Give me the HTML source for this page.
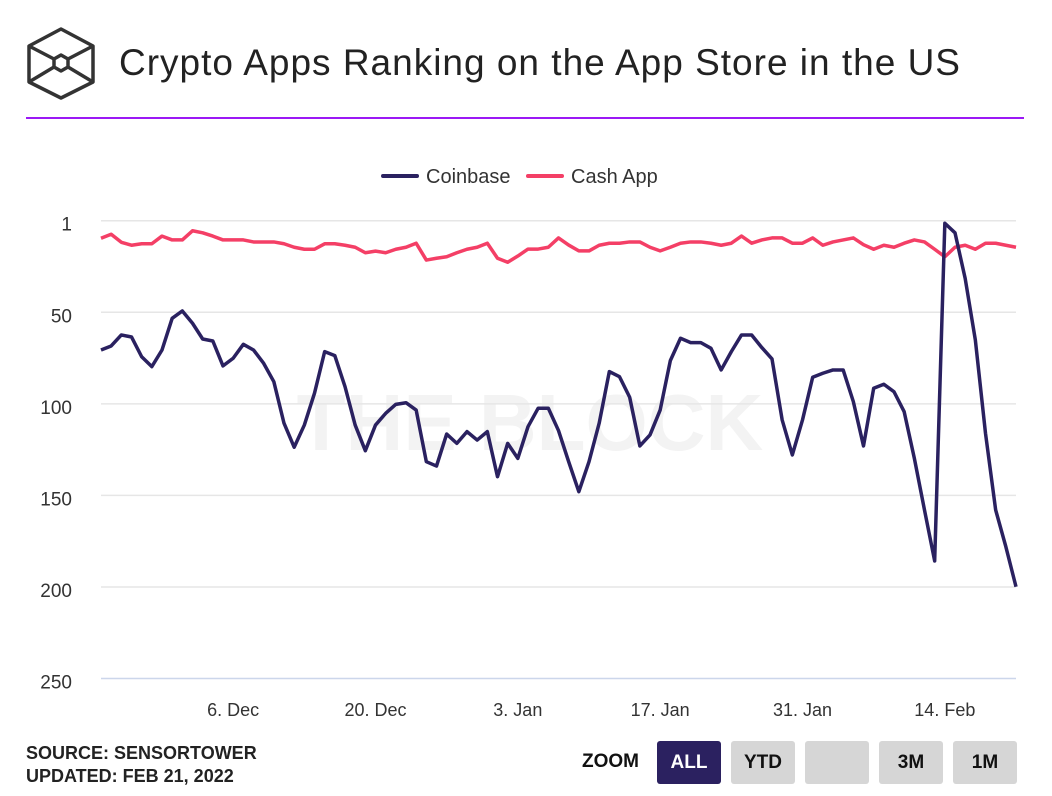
<!DOCTYPE html>
<html><head><meta charset="utf-8"><style>
body{margin:0;width:1052px;height:796px;background:#fff;font-family:"Liberation Sans",sans-serif;overflow:hidden;position:relative}
.t{position:absolute}
.btn{position:absolute;top:741px;width:64px;height:43px;border-radius:3px;background:#d6d6d6;font-weight:bold;font-size:19px;line-height:43px;text-align:center;color:#111}
</style></head><body>
<svg class="t" style="left:0;top:0" width="110" height="110">
<g fill="none" stroke="#333" stroke-width="3.5" stroke-linejoin="round">
<polygon points="61,29 93,46 93,82 61,98 29,82 29,46"/>
<polyline points="29,46 54,59"/><polyline points="93,46 68,59"/>
<polyline points="29,82 54,67"/><polyline points="93,82 68,67"/>
<polygon points="61,55 68,59 68,67 61,71 54,67 54,59"/>
</g></svg>
<div class="t" style="left:119px;top:42px;font-size:37px;letter-spacing:1px;color:#222">Crypto Apps Ranking on the App Store in the US</div>
<div class="t" style="left:26px;top:117px;width:998px;height:2px;background:#9b19f5"></div>
<svg class="t" id="chart" style="left:0;top:0" width="1052" height="730"></svg>
<div class="t" style="left:26px;top:742px;font-size:18px;font-weight:bold;line-height:23px;color:#222">SOURCE: SENSORTOWER<br>UPDATED: FEB 21, 2022</div>
<div class="t" style="left:582px;top:751px;font-size:19px;font-weight:bold;color:#111">ZOOM</div>
<div class="btn" style="left:657px;background:#2b2160;color:#fff">ALL</div>
<div class="btn" style="left:731px">YTD</div>
<div class="btn" style="left:805px"></div>
<div class="btn" style="left:879px">3M</div>
<div class="btn" style="left:953px">1M</div>
<script>
const coinbase=[70.6,68.4,62.4,63.5,74.3,79.7,70.6,53.3,49.3,56,64.6,65.7,79.3,75.1,67.5,70.6,77.9,87.9,110.6,123.7,111.6,94.2,71.5,73.7,90.6,111.6,125.6,111.6,105.2,100.3,99.4,103.4,131.6,134,116.5,121.6,115.2,119.8,115.2,139.8,121.6,129.8,112.5,102.4,102.4,114.6,131.6,148,131.6,110.6,82.4,85.2,96.4,123,117,103.4,76.4,64.2,66.6,66.6,69.7,81.5,71.5,62.4,62.4,69.3,75.5,108.8,127.9,108.8,85.5,83.3,81.5,81.5,98.8,123,91.5,89.3,93.4,104.3,129.7,158,185.8,1.4,6.6,31.5,65.1,116.1,158,178,199.9];
const cashApp=[9.6,7.4,11.8,13.4,12.6,12.6,8.4,10.5,10.5,5.5,6.6,8.4,10.5,10.5,10.5,11.6,11.6,11.6,12.6,14.5,15.6,15.6,12.6,12.6,13.4,14.5,17.5,16.6,17.5,15.6,14.5,12.3,21.5,20.5,19.7,17.5,15.6,14.5,12.3,20.5,22.7,19.3,15.5,15.5,14.5,9.4,13.3,16.5,16.5,13.4,12.3,12.3,11.6,11.6,14.5,16.5,14.5,12.3,11.6,11.6,12.3,13.4,12.3,8.4,12.3,10.5,9.4,9.4,12.3,12.3,9.4,13.4,11.6,10.5,9.4,13.1,15.6,13.4,14.5,12.3,10.5,11.6,15.6,19.7,14.5,13.4,15.6,12.3,12.3,13.4,14.5];
const yTicks=[1,50,100,150,200,250];
const xTickLabels=["6. Dec","20. Dec","3. Jan","17. Jan","31. Jan","14. Feb"];
const xTickDays=[13,27,41,55,69,83];
const NS="http://www.w3.org/2000/svg";
const svg=document.getElementById('chart');
const x0=101,x1=1016,nDays=90;
const xs=d=>x0+d*(x1-x0)/nDays;
const ys=v=>220.7+v*(678.5-220.7)/250;
function mk(tag,attrs){const e=document.createElementNS(NS,tag);for(const k in attrs)e.setAttribute(k,attrs[k]);svg.appendChild(e);return e;}
const wm=mk('text',{x:530,y:450,'text-anchor':'middle','font-size':'80','font-weight':'bold',fill:'#f3f3f3','font-family':'Liberation Sans, sans-serif'});


wm.textContent='THE BLOCK';
yTicks.forEach(v=>{
  const yy=v===1?220.7:ys(v);
  const g=mk('line',{x1:x0,x2:x1,y1:yy,y2:yy,stroke:v===250?'#ccd6eb':'#e6e6e6','stroke-width':1.5});
  
  
  const t=mk('text',{x:72,y:yy+10,'text-anchor':'end','font-size':'19',fill:'#333','font-family':'Liberation Sans, sans-serif'});
  
  
  t.textContent=v;
});
xTickDays.forEach((d,i)=>{
  const t=mk('text',{x:xs(d),y:716,'text-anchor':'middle','font-size':'18',fill:'#333','font-family':'Liberation Sans, sans-serif'});
  
  
  t.textContent=xTickLabels[i];
});
function series(data,color,name){
  const p=mk('polyline',{points:data.map((v,i)=>xs(i)+','+ys(v)).join(' '),fill:'none',stroke:color,'stroke-width':3.5,'stroke-linejoin':'round'});
  
  
}
series(cashApp,'#f43f66','cash-app-line');
series(coinbase,'#2a2160','coinbase-line');
[[383,'#2a2160','Coinbase',426],[528,'#f43f66','Cash App',571]].forEach(l=>{
  const ln=mk('line',{x1:l[0],x2:l[0]+34,y1:176,y2:176,stroke:l[1],'stroke-width':4,'stroke-linecap':'round'});
  
  
  const t=mk('text',{x:l[3],y:183,'font-size':'20',fill:'#333','font-family':'Liberation Sans, sans-serif'});
  
  
  t.textContent=l[2];
});
</script>
</body></html>
